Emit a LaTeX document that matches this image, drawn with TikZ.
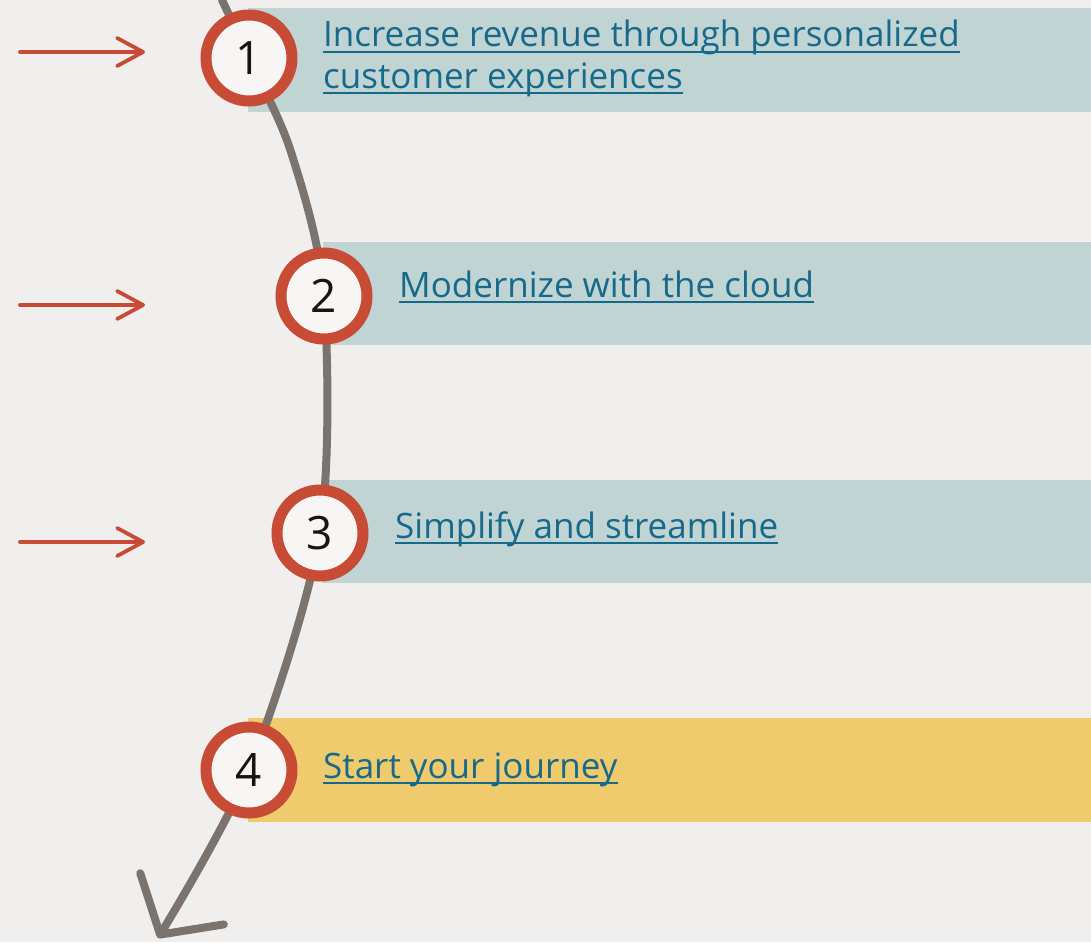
\documentclass[tikz,border=0pt]{standalone}
\usepackage{fontspec}
\setmainfont{Open Sans}
\usetikzlibrary{arrows.meta}
\definecolor{paper}{HTML}{F1EFED}
\definecolor{bandteal}{HTML}{C0D4D4}
\definecolor{bandgold}{HTML}{EFCB6E}
\definecolor{redmark}{HTML}{C84B36}
\definecolor{ringfill}{HTML}{F7F6F4}
\definecolor{pathgray}{HTML}{7A736E}
\definecolor{linkblue}{HTML}{17698A}
\definecolor{ink}{HTML}{161513}
\tikzset{
  stepcirc/.style={circle,draw=redmark,line width=11pt,fill=ringfill,minimum size=86pt,
    inner sep=0pt,text=ink,font=\fontsize{46}{46}\selectfont},
  steptext/.style={anchor=base west,inner sep=0pt,text=linkblue,
    font=\fontsize{35}{41}\selectfont},
  linkline/.style={draw=linkblue,line width=2pt},
  pointer/.style={draw=redmark,line width=3.8pt,line cap=round,
    -{Straight Barb[length=26pt 0,width=28pt 0,round]}},
  journey/.style={draw=pathgray,line width=8pt,line cap=round,
    -{Straight Barb[length=42pt 0,width=98pt 0,round]}}
}
\begin{document}
\begin{tikzpicture}[x=1pt,y=-1pt]
	\useasboundingbox[fill=paper] (0,0) rectangle (1091,942);
	% coloured bands
	\fill[bandteal] (248,8) rectangle (1091,112);
	\fill[bandteal] (323,242) rectangle (1091,345);
	\fill[bandteal] (322,480) rectangle (1091,583);
	\fill[bandgold] (248,718) rectangle (1091,822);
	% the journey line
	\coordinate (top) at (222,0);
	\coordinate (p1) at (249,58);
	\coordinate (bend) at (291,152);
	\coordinate (p2) at (324,296);
	\coordinate (p3) at (320,533);
	\coordinate (p4) at (249,770);
	\coordinate (tip) at (158,938);
	\draw[journey] plot[smooth] coordinates {(top) (p1) (bend) (p2) (p3) (p4) (tip)};
	\foreach \i in {1,...,4}
		\node[stepcirc] (n\i) at (p\i) {\i};
	% red pointers
	\foreach \i/\y in {1/52, 2/305, 3/542}{
		\coordinate (tail\i) at (20,\y);
		\coordinate (head\i) at (145,\y);
		\draw[pointer] (tail\i) -- (head\i);
	}
	% linked titles
	\node[steptext] (t1) at (323,47) {Increase revenue through personalized};
	\node[steptext] (t1b) at (323,88) {customer experiences};
	\node[steptext] (t2) at (399,297) {Modernize with the cloud};
	\node[steptext] (t3) at (395,538) {Simplify and streamline};
	\node[steptext] (t4) at (323,778) {Start your journey};
	\foreach \t in {t1,t1b,t2,t3,t4}
		\draw[linkline] ([yshift=-5pt]\t.base west) -- ([yshift=-5pt]\t.base east);
\end{tikzpicture}
\end{document}
